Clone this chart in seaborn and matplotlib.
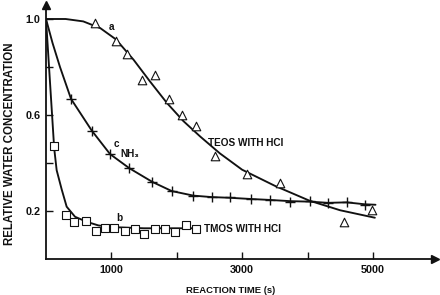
import matplotlib
matplotlib.use("Agg")
import matplotlib.pyplot as plt
import seaborn as sns

# measured points (time in s, relative water concentration)
teos_t = [750, 1072, 1240, 1470, 1674, 1888, 2087, 2292, 2588, 3068, 3585, 4563, 4987]
teos_y = [0.985, 0.91, 0.854, 0.746, 0.765, 0.667, 0.60, 0.554, 0.43, 0.355, 0.318, 0.154, 0.204]

nh3_t = [383, 700, 980, 1276, 1628, 1924, 2256, 2532, 2818, 3134, 3430, 3737, 4032, 4313, 4599, 4874]
nh3_y = [0.667, 0.535, 0.437, 0.378, 0.321, 0.283, 0.264, 0.26, 0.257, 0.25, 0.246, 0.239, 0.24, 0.232, 0.239, 0.225]

tmos_t = [120, 301, 434, 613, 761, 908, 1046, 1205, 1363, 1501, 1669, 1817, 1975, 2139, 2292]
tmos_y = [0.47, 0.183, 0.155, 0.157, 0.118, 0.131, 0.131, 0.117, 0.124, 0.104, 0.126, 0.126, 0.114, 0.14, 0.126]

# fitted curves
teos_fit_t = [0, 300, 570, 830, 1070, 1340, 1590, 1850, 2100, 2360, 2660, 3000, 3500, 4030, 4500, 5030]
teos_fit_y = [1.0, 1.0, 0.99, 0.962, 0.915, 0.83, 0.74, 0.65, 0.575, 0.51, 0.44, 0.372, 0.305, 0.243, 0.203, 0.172]

nh3_fit_t = [0, 100, 214, 383, 700, 980, 1276, 1628, 1924, 2256, 2532, 2818, 3134, 3430, 3737, 4032, 4313, 4599, 4874, 5040]
nh3_fit_y = [1.0, 0.9, 0.80, 0.667, 0.535, 0.437, 0.378, 0.321, 0.283, 0.264, 0.258, 0.255, 0.25, 0.246, 0.241, 0.239, 0.234, 0.236, 0.228, 0.226]

tmos_fit_t = [0, 125, 163, 240, 316, 444, 623, 800, 1000, 1500, 2000, 2320]
tmos_fit_y = [1.0, 0.462, 0.37, 0.29, 0.218, 0.176, 0.155, 0.14, 0.133, 0.128, 0.128, 0.128]

x_ticks = [1000, 2000, 3000, 4000, 5000]
x_labels = ["1000", "", "3000", "", "5000"]
y_ticks = [0.2, 0.4, 0.6, 0.8, 1.0]
y_labels = ["0.2", "", "0.6", "", "1.0"]

sns.set_theme(style="ticks")
plt.rcParams["font.family"] = ["Liberation Sans", "DejaVu Sans"]
plt.rcParams["font.weight"] = "bold"

fig = plt.figure(figsize=(4.4, 2.95), dpi=100)
ax = fig.add_axes([46 / 440, 36 / 295, 389 / 440, 254.4 / 295])

ink = "#111111"
for t, y in [(teos_fit_t, teos_fit_y), (nh3_fit_t, nh3_fit_y), (tmos_fit_t, tmos_fit_y)]:
    sns.lineplot(x=t, y=y, ax=ax, color=ink, lw=1.35, sort=False, zorder=2)

sns.scatterplot(x=teos_t, y=teos_y, ax=ax, marker="^", s=38, facecolor="white",
                edgecolor=ink, linewidth=0.8, zorder=3)
sns.scatterplot(x=tmos_t, y=tmos_y, ax=ax, marker="s", s=26, facecolor="white",
                edgecolor=ink, linewidth=0.8, zorder=3)
sns.scatterplot(x=nh3_t, y=nh3_y, ax=ax, marker="+", s=42, color=ink,
                linewidth=1.0, zorder=3)

ax.set_xlim(0, 5950)
ax.set_ylim(0, 1.06)
sns.despine(ax=ax)
for side in ["left", "bottom"]:
    ax.spines[side].set_color(ink)
    ax.spines[side].set_linewidth(1.3)

# arrowheads on the axes
ax.plot([0], [1.06], marker="^", ms=6, color=ink, clip_on=False, zorder=4)
ax.plot([5950], [0], marker=">", ms=6, color=ink, clip_on=False, zorder=4)

ax.set_xticks(x_ticks)
ax.set_xticklabels(x_labels)
ax.set_yticks(y_ticks)
ax.set_yticklabels(y_labels)
ax.tick_params(direction="in", length=5, width=1, colors=ink, labelsize=7.8, pad=4)
for lab in ax.get_xticklabels() + ax.get_yticklabels():
    lab.set_fontweight("bold")

ax.set_xlabel("REACTION TIME (s)", fontsize=6.8, fontweight="bold", color=ink)
ax.xaxis.set_label_coords((231 - 46) / 389, -0.105)
ax.set_ylabel("RELATIVE WATER CONCENTRATION", fontsize=8.3, fontweight="bold", color=ink)
ax.yaxis.set_label_coords(-0.078, 0.452)

txt = dict(fontsize=7.2, fontweight="bold", color=ink, va="center")
ax.text(955, 0.968, "a", **txt)
ax.text(2480, 0.485, "TEOS WITH HCl", **txt)
ax.text(1030, 0.479, "c", **txt)
ax.text(1143, 0.437, "NH₃", **txt)
ax.text(1072, 0.172, "b", **txt)
ax.text(2420, 0.126, "TMOS WITH HCl", **txt)

fig.savefig("out.png", dpi=100, facecolor="white")
